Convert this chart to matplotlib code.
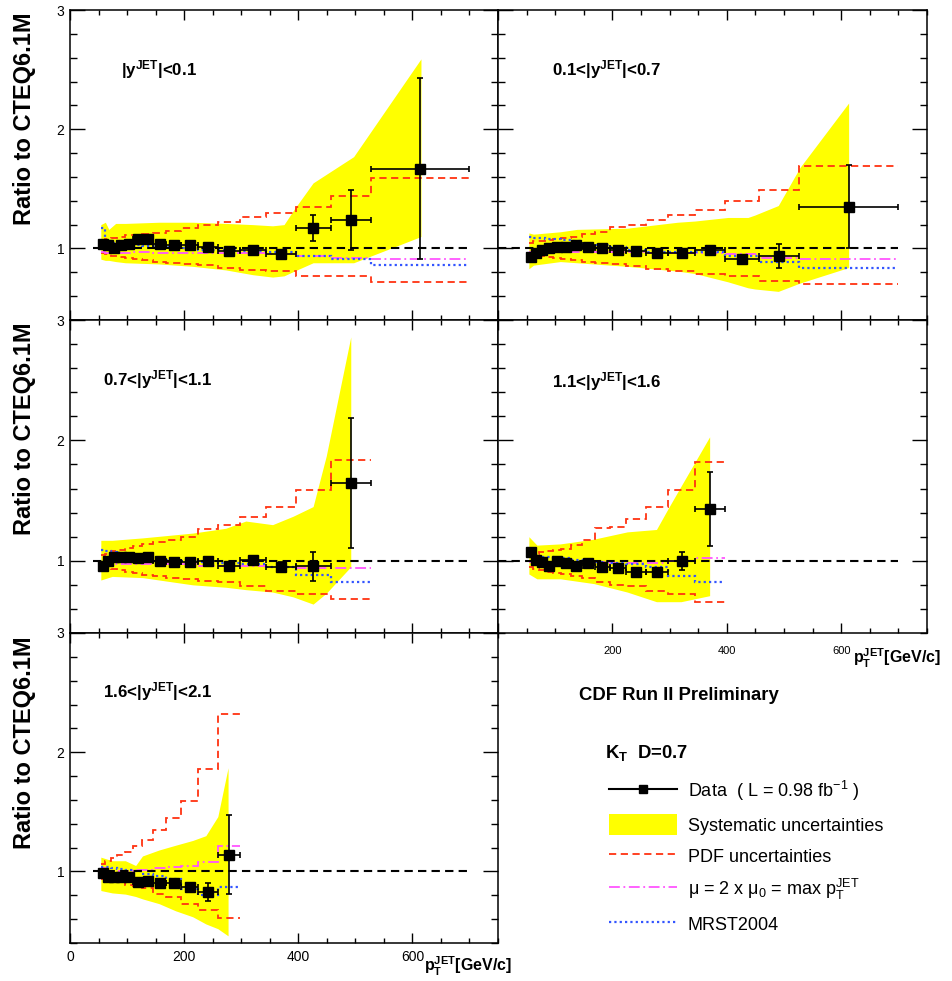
import numpy as np
import matplotlib
matplotlib.use('Agg')
from matplotlib import pyplot as plt
from matplotlib.lines import Line2D
from matplotlib.patches import Patch
from matplotlib.ticker import MultipleLocator

plt.rcParams['font.family'] = ['Liberation Sans', 'DejaVu Sans']
plt.rcParams['mathtext.default'] = 'regular'

# pT bins (GeV/c)
bin_edges = [54, 62, 72, 83, 96, 110, 127, 146, 169, 195, 224, 259, 298, 344, 396, 457, 527, 700]

# |y|<0.1
p1_ratio = [1.04, 1.03, 1.00, 1.03, 1.04, 1.08, 1.08, 1.04, 1.03, 1.03, 1.01, 0.98, 0.99, 0.95, 1.17, 1.24, 1.67]
p1_err = [0.01, 0.01, 0.01, 0.01, 0.01, 0.01, 0.01, 0.01, 0.01, 0.01, 0.01, 0.02, 0.02, 0.04, 0.11, 0.25, 0.76]
p1_pdf_hi = [1.07, 1.08, 1.09, 1.10, 1.11, 1.11, 1.12, 1.13, 1.15, 1.17, 1.20, 1.22, 1.26, 1.30, 1.35, 1.44, 1.59]
p1_pdf_lo = [0.96, 0.95, 0.94, 0.93, 0.92, 0.91, 0.90, 0.89, 0.88, 0.87, 0.86, 0.84, 0.82, 0.81, 0.77, 0.77, 0.72]
p1_scale = [0.97, 0.96, 0.96, 0.96, 0.96, 0.97, 0.97, 0.96, 0.96, 0.96, 0.96, 0.96, 0.96, 0.95, 0.94, 0.92, 0.91]
p1_mrst = [1.17, 1.06, 1.05, 1.05, 1.04, 1.03, 1.02, 1.02, 1.01, 1.00, 0.99, 0.99, 0.98, 0.97, 0.94, 0.91, 0.86]
p1_sys_x = [54, 62, 68, 80, 97, 156, 215, 273, 320, 355, 375, 393, 426, 497, 615]
p1_sys_hi = [1.20, 1.22, 1.16, 1.21, 1.21, 1.22, 1.22, 1.21, 1.20, 1.19, 1.20, 1.33, 1.55, 1.77, 2.59]
p1_sys_lo = [0.91, 0.90, 0.90, 0.89, 0.88, 0.87, 0.85, 0.82, 0.78, 0.76, 0.77, 0.81, 0.88, 0.88, 1.10]

# 0.1<|y|<0.7
p2_ratio = [0.93, 0.96, 0.99, 1.00, 1.01, 1.01, 1.03, 1.01, 1.00, 0.99, 0.98, 0.96, 0.96, 0.99, 0.91, 0.94, 1.35]
p2_err = [0.01, 0.01, 0.01, 0.01, 0.01, 0.01, 0.01, 0.01, 0.01, 0.01, 0.01, 0.01, 0.02, 0.02, 0.03, 0.10, 0.35]
p2_pdf_hi = [1.05, 1.06, 1.06, 1.07, 1.08, 1.09, 1.10, 1.12, 1.14, 1.18, 1.20, 1.24, 1.28, 1.32, 1.40, 1.49, 1.69]
p2_pdf_lo = [0.96, 0.95, 0.94, 0.93, 0.92, 0.91, 0.90, 0.89, 0.88, 0.87, 0.85, 0.83, 0.81, 0.79, 0.77, 0.73, 0.70]
p2_scale = [0.97, 0.97, 0.97, 0.97, 0.97, 0.97, 0.97, 0.97, 0.97, 0.97, 0.97, 0.96, 0.96, 0.96, 0.95, 0.92, 0.91]
p2_mrst = [1.10, 1.09, 1.09, 1.08, 1.08, 1.07, 1.06, 1.04, 1.03, 1.01, 0.99, 0.97, 0.97, 0.97, 0.94, 0.89, 0.84]
p2_sys_x = [54, 62, 109, 138, 226, 314, 344, 402, 437, 449, 490, 528, 613]
p2_sys_hi = [1.13, 1.12, 1.14, 1.16, 1.17, 1.22, 1.23, 1.26, 1.26, 1.28, 1.36, 1.68, 2.22]
p2_sys_lo = [0.83, 0.86, 0.89, 0.88, 0.85, 0.81, 0.79, 0.72, 0.67, 0.66, 0.64, 0.71, 0.84]

# 0.7<|y|<1.1
p3_ratio = [0.96, 1.00, 1.03, 1.03, 1.03, 1.02, 1.03, 1.00, 0.99, 0.99, 1.00, 0.96, 1.01, 0.95, 0.955, 1.65]
p3_err = [0.01, 0.01, 0.01, 0.01, 0.01, 0.01, 0.01, 0.01, 0.01, 0.01, 0.01, 0.02, 0.02, 0.04, 0.12, 0.54]
p3_pdf_hi = [1.05, 1.06, 1.08, 1.09, 1.11, 1.12, 1.14, 1.16, 1.17, 1.20, 1.26, 1.30, 1.36, 1.45, 1.59, 1.84]
p3_pdf_lo = [0.95, 0.94, 0.93, 0.92, 0.91, 0.90, 0.88, 0.87, 0.86, 0.85, 0.83, 0.82, 0.79, 0.75, 0.72, 0.68]
p3_scale = [0.97, 0.97, 0.97, 0.97, 0.97, 0.97, 0.97, 0.97, 0.97, 0.97, 0.96, 0.96, 0.96, 0.95, 0.94, 0.94]
p3_mrst = [1.09, 1.08, 1.07, 1.06, 1.05, 1.04, 1.03, 1.02, 1.01, 1.00, 0.99, 0.98, 0.97, 0.95, 0.88, 0.82]
p3_sys_x = [54, 74, 127, 215, 273, 308, 355, 391, 426, 449, 492]
p3_sys_hi = [1.17, 1.17, 1.19, 1.23, 1.27, 1.33, 1.30, 1.37, 1.45, 1.87, 2.86]
p3_sys_lo = [0.84, 0.87, 0.86, 0.80, 0.78, 0.76, 0.74, 0.70, 0.64, 0.73, 0.95]

# 1.1<|y|<1.6
p4_ratio = [1.07, 1.01, 0.99, 0.96, 1.00, 0.98, 0.96, 0.98, 0.95, 0.94, 0.91, 0.91, 1.00, 1.43]
p4_err = [0.01, 0.01, 0.01, 0.01, 0.01, 0.01, 0.01, 0.01, 0.01, 0.01, 0.02, 0.03, 0.075, 0.31]
p4_pdf_hi = [1.04, 1.06, 1.07, 1.08, 1.09, 1.10, 1.13, 1.17, 1.27, 1.28, 1.35, 1.45, 1.59, 1.82]
p4_pdf_lo = [0.95, 0.93, 0.92, 0.91, 0.90, 0.89, 0.87, 0.86, 0.82, 0.80, 0.79, 0.75, 0.72, 0.66]
p4_scale = [0.99, 0.99, 0.99, 0.99, 0.99, 0.99, 0.99, 0.99, 0.99, 0.98, 0.98, 0.98, 1.00, 1.02]
p4_mrst = [1.06, 1.04, 1.03, 1.03, 1.02, 1.02, 1.01, 1.00, 0.99, 0.98, 0.97, 0.95, 0.87, 0.82]
p4_sys_x = [54, 68, 109, 168, 226, 277, 297, 320, 370]
p4_sys_hi = [1.20, 1.13, 1.14, 1.18, 1.24, 1.26, 1.43, 1.62, 2.03]
p4_sys_lo = [0.89, 0.85, 0.85, 0.81, 0.74, 0.66, 0.66, 0.66, 0.71]

# 1.6<|y|<2.1
p5_ratio = [0.99, 0.95, 0.95, 0.95, 0.95, 0.91, 0.92, 0.905, 0.90, 0.87, 0.83, 1.14]
p5_err = [0.01, 0.01, 0.01, 0.01, 0.01, 0.01, 0.01, 0.015, 0.02, 0.02, 0.075, 0.33]
p5_pdf_hi = [1.06, 1.09, 1.11, 1.14, 1.16, 1.21, 1.26, 1.35, 1.45, 1.59, 1.86, 2.32]
p5_pdf_lo = [0.94, 0.93, 0.92, 0.91, 0.89, 0.88, 0.86, 0.81, 0.79, 0.73, 0.68, 0.61]
p5_scale = [1.03, 1.00, 1.00, 1.00, 1.00, 1.01, 1.01, 1.03, 1.04, 1.05, 1.08, 1.21]
p5_mrst = [1.04, 1.04, 1.03, 1.02, 1.01, 1.00, 0.98, 0.96, 0.94, 0.85, 0.80, 0.87]
p5_sys_x = [54, 74, 97, 115, 127, 156, 185, 215, 238, 259, 277]
p5_sys_hi = [1.12, 1.09, 1.09, 1.05, 1.13, 1.18, 1.22, 1.26, 1.30, 1.46, 1.87]
p5_sys_lo = [0.84, 0.82, 0.81, 0.79, 0.77, 0.73, 0.67, 0.62, 0.56, 0.52, 0.46]

labels = [r'|y$^{JET}$|<0.1', r'0.1<|y$^{JET}$|<0.7', r'0.7<|y$^{JET}$|<1.1',
          r'1.1<|y$^{JET}$|<1.6', r'1.6<|y$^{JET}$|<2.1']

W, H = 952, 981
fig = plt.figure(figsize=(W / 100, H / 100), dpi=100)


def box(x0, y0, x1, y1):
    return [x0 / W, 1 - y1 / H, (x1 - x0) / W, (y1 - y0) / H]


red = '#ff3311'
mag = '#ff55ff'
blue = '#3355ff'
dash = (0, (4, 2.5))
dashdot = (0, (6, 2, 1, 2))
dots = (0, (1, 1.4))


def panel(rect, ratio, err, pdf_hi, pdf_lo, scale, mrst, sx, shi, slo, label, lpos, left, xlab):
    ax = fig.add_axes(rect)
    n = len(ratio)
    edges = np.array(bin_edges[:n + 1], dtype=float)
    centers = (edges[:-1] + edges[1:]) / 2
    half = (edges[1:] - edges[:-1]) / 2
    ax.fill_between(sx, slo, shi, color='#ffff00', lw=0, zorder=1)
    ax.stairs(pdf_hi, edges, baseline=None, color=red, ls=dash, lw=1.3, zorder=2)
    ax.stairs(pdf_lo, edges, baseline=None, color=red, ls=dash, lw=1.3, zorder=2)
    ax.stairs(scale, edges, baseline=None, color=mag, ls=dashdot, lw=1.3, zorder=3)
    ax.stairs(mrst, edges, baseline=None, color=blue, ls=dots, lw=1.6, zorder=3)
    ax.plot([40 if left else 0, 700], [1, 1], color='k', ls=dash, lw=1.5, zorder=4)
    ax.errorbar(centers, ratio, yerr=err, xerr=half, fmt='s', color='k', ms=7.5,
                elinewidth=1.2, capsize=2.5, capthick=1.2, zorder=5)
    ax.set_xlim(0, 750)
    ax.set_ylim(0.4, 3.0)
    ax.xaxis.set_major_locator(MultipleLocator(200))
    ax.xaxis.set_minor_locator(MultipleLocator(50))
    ax.yaxis.set_major_locator(MultipleLocator(1))
    ax.yaxis.set_minor_locator(MultipleLocator(0.2))
    ax.tick_params(which='both', direction='in', top=True, right=True, width=1)
    ax.tick_params(axis='y', which='major', length=11, labelsize=10, pad=4)
    ax.tick_params(axis='y', which='minor', length=5)
    ax.tick_params(axis='x', which='major', length=7)
    ax.tick_params(axis='x', which='minor', length=3.5)
    ax.tick_params(labelleft=left, labelbottom=xlab is not None)
    for s in ax.spines.values():
        s.set_linewidth(1.1)
    ax.text(lpos[0], lpos[1], label, transform=fig.transFigure, fontsize=12.2,
            fontweight='bold', ha='left', va='center')
    return ax


a1 = panel(box(70, 10, 498, 320), p1_ratio, p1_err, p1_pdf_hi, p1_pdf_lo, p1_scale, p1_mrst,
           p1_sys_x, p1_sys_hi, p1_sys_lo, labels[0], (121 / W, 1 - 70 / H), True, None)
a2 = panel(box(498, 10, 927, 320), p2_ratio, p2_err, p2_pdf_hi, p2_pdf_lo, p2_scale, p2_mrst,
           p2_sys_x, p2_sys_hi, p2_sys_lo, labels[1], (552 / W, 1 - 70 / H), False, None)
a3 = panel(box(70, 320, 498, 633), p3_ratio, p3_err, p3_pdf_hi, p3_pdf_lo, p3_scale, p3_mrst,
           p3_sys_x, p3_sys_hi, p3_sys_lo, labels[2], (103 / W, 1 - 380 / H), True, None)
a4 = panel(box(498, 320, 927, 633), p4_ratio, p4_err, p4_pdf_hi, p4_pdf_lo, p4_scale, p4_mrst,
           p4_sys_x, p4_sys_hi, p4_sys_lo, labels[3], (552 / W, 1 - 382 / H), False, 'r')
a5 = panel(box(70, 633, 498, 943), p5_ratio, p5_err, p5_pdf_hi, p5_pdf_lo, p5_scale, p5_mrst,
           p5_sys_x, p5_sys_hi, p5_sys_lo, labels[4], (103 / W, 1 - 692 / H), True, 'b')

a4.set_xticks([0, 200, 400, 600], ['', '200', '400', '600'])
a4.tick_params(axis='x', which='major', labelsize=8, pad=9)
a5.tick_params(axis='x', which='major', labelsize=10, pad=5)

ptlab = r'p$_T^{JET}$[GeV/c]'
fig.text(853 / W, 1 - 658 / H, ptlab, fontsize=11.5, fontweight='bold', ha='left', va='center')
fig.text(424 / W, 1 - 966 / H, ptlab, fontsize=11.5, fontweight='bold', ha='left', va='center')

for top in (12, 322, 636):
    fig.text(25 / W, 1 - top / H, 'Ratio to CTEQ6.1M', rotation=90, fontsize=17,
             fontweight='bold', ha='center', va='top')

fig.text(579 / W, 1 - 695 / H, 'CDF Run II Preliminary', fontsize=13.3, fontweight='bold',
         ha='left', va='center')
fig.text(605 / W, 1 - 753 / H, r'K$_T$  D=0.7', fontsize=13.3, fontweight='bold',
         ha='left', va='center')

handles = [
    Line2D([], [], color='k', lw=1.5, marker='s', ms=6),
    Patch(facecolor='#ffff00', edgecolor='none'),
    Line2D([], [], color=red, ls=dash, lw=1.3),
    Line2D([], [], color=mag, ls=dashdot, lw=1.3),
    Line2D([], [], color=blue, ls=dots, lw=1.6),
]
names = [r'Data  ( L = 0.98 fb$^{-1}$ )', 'Systematic uncertainties', 'PDF uncertainties',
         r'μ = 2 x μ$_0$ = max p$_T^{JET}$', 'MRST2004']
fig.legend(handles, names, loc='upper left', bbox_to_anchor=(609 / W, 1 - 779 / H),
           frameon=False, fontsize=13, handlelength=3.77, handleheight=1.33,
           handletextpad=0.6, labelspacing=0.63, borderpad=0, borderaxespad=0, numpoints=1)

fig.savefig('out.png', dpi=100)
